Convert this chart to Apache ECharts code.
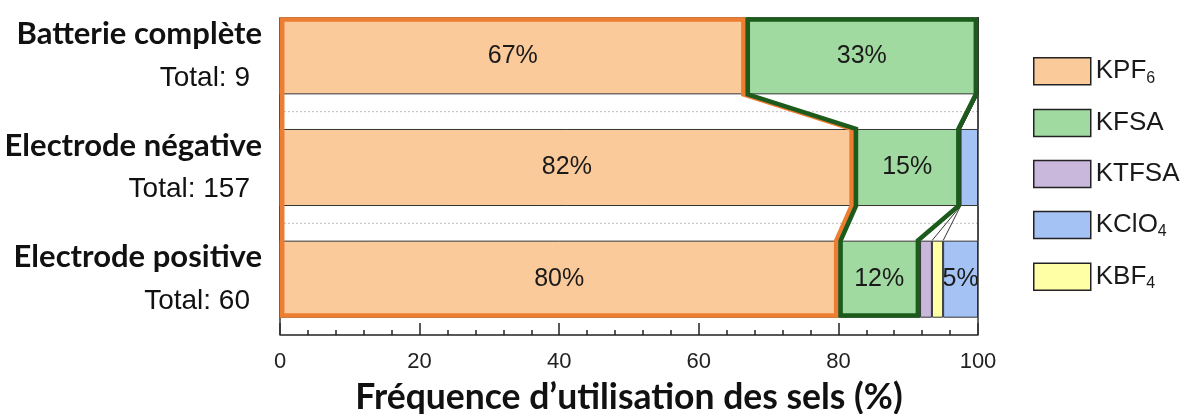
<!DOCTYPE html>
<html>
<head>
<meta charset="utf-8">
<script src="https://cdn.jsdelivr.net/npm/echarts@6/dist/echarts.min.js"></script>
<style>
html,body{margin:0;padding:0;background:#fff;}
#chart{width:1187px;height:414px;}
</style>
</head>
<body>
<div id="chart"></div>
<script>
// ---- data ----
const categories = ['Batterie complète', 'Electrode négative', 'Electrode positive'];
const totals = [9, 157, 60];
// legend order
const salts = ['KPF6', 'KFSA', 'KTFSA', 'KClO4', 'KBF4'];
// stacking order along the bars (left to right)
const stackOrder = ['KPF6', 'KFSA', 'KTFSA', 'KBF4', 'KClO4'];
const kpf6  = [66.7, 82.2, 80.0];
const kfsa  = [33.3, 15.3, 11.7];
const ktfsa = [0, 0, 1.7];
const kclo4 = [0, 2.5, 5.0];
const kbf4  = [0, 0, 1.6];
const xTicks = [0, 20, 40, 60, 80, 100];

const saltValues = {KPF6: kpf6, KFSA: kfsa, KTFSA: ktfsa, KClO4: kclo4, KBF4: kbf4};
const saltColors = {KPF6: '#FBCA9B', KFSA: '#A1DAA1', KTFSA: '#C9B7DC', KClO4: '#A4C2F4', KBF4: '#FFFFA6'};
const outlineColors = ['#ED7D31', '#1D5B1D'];

function cumRow(i) {
  let s = 0;
  const out = [0];
  stackOrder.forEach(name => { s += saltValues[name][i]; out.push(s); });
  return out;
}

const BAR_FRAC = 0.69;
const ARIAL = 'Liberation Sans, Arial, sans-serif';

const chart = echarts.init(document.getElementById('chart'), null, {renderer: 'canvas'});

const barSeries = stackOrder.map(name => ({
  name: name,
  type: 'bar',
  stack: 'total',
  barWidth: (BAR_FRAC * 100) + '%',
  data: saltValues[name],
  itemStyle: {color: saltColors[name], borderColor: '#333', borderWidth: 1},
  label: {
    show: true,
    position: 'inside',
    fontFamily: ARIAL,
    fontSize: 25,
    color: '#1a1a1a',
    formatter: p => (p.value >= 4 ? Math.round(p.value) + '%' : '')
  },
  z: 2
}));

const overlay = {
  type: 'custom',
  silent: true,
  z: 10,
  data: [[0, 0]],
  encode: {x: 0, y: 1},
  renderItem: function (params, api) {
    const n = categories.length;
    const band = api.size([0, 1])[1];
    const half = band * BAR_FRAC / 2;
    const yc = i => api.coord([0, i])[1];
    const X = v => api.coord([v, 0])[0];
    const top = i => yc(i) - half;
    const bot = i => yc(i) + half;
    const children = [];
    const cums = categories.map((c, i) => cumRow(i));
    for (let i = 0; i < n - 1; i++) {
      const y = (yc(i) + yc(i + 1)) / 2;
      children.push({type: 'line', shape: {x1: X(0), y1: y, x2: X(100), y2: y},
        style: {stroke: '#bdbdbd', lineWidth: 1, lineDash: [2, 2]}});
    }
    for (let i = 0; i < n - 1; i++) {
      const a = cums[i], b = cums[i + 1];
      for (let k = 0; k < a.length; k++) {
        children.push({type: 'line', shape: {x1: X(a[k]), y1: bot(i), x2: X(b[k]), y2: top(i + 1)},
          style: {stroke: '#333', lineWidth: 1}});
      }
    }
    const yBottom = yc(n - 1) + band / 2;
    [0, 100].forEach(v => {
      children.push({type: 'line', shape: {x1: X(v), y1: top(0), x2: X(v), y2: yBottom},
        style: {stroke: '#333', lineWidth: 1.5}});
    });
    const o = 2.2;
    for (let s = 0; s < 2; s++) {
      const L = i => X(cums[i][s]) + o;
      const R = i => X(cums[i][s + 1]) - o;
      const T = i => (i === 0 ? top(i) + o : top(i));
      const B = i => (i === n - 1 ? bot(i) - o : bot(i));
      const pts = [];
      for (let i = 0; i < n; i++) { pts.push([R(i), T(i)]); pts.push([R(i), B(i)]); }
      for (let i = n - 1; i >= 0; i--) { pts.push([L(i), B(i)]); pts.push([L(i), T(i)]); }
      children.push({type: 'polygon', shape: {points: pts},
        style: {fill: 'none', stroke: outlineColors[s], lineWidth: 4.5, lineJoin: 'miter'}});
    }
    return {type: 'group', children: children};
  }
};

const option = {
  animation: false,
  backgroundColor: '#fff',
  grid: {left: 280, right: 209, top: 0, bottom: 79, outerBoundsMode: 'none', containLabel: false},
  legend: {
    orient: 'vertical',
    left: 1033,
    top: 57,
    padding: 0,
    icon: 'rect',
    itemWidth: 57,
    itemHeight: 27,
    itemGap: 22.5,
    data: salts,
    itemStyle: {borderColor: '#222', borderWidth: 1.5},
    formatter: name => {
      const m = name.match(/^(.*?)(\d+)$/);
      return m ? '{m|' + m[1] + '}{sub|' + m[2] + '}' : '{m|' + name + '}';
    },
    textStyle: {
      fontFamily: ARIAL,
      fontSize: 26,
      color: '#1a1a1a',
      rich: {
        m: {fontFamily: ARIAL, fontSize: 26, lineHeight: 30, color: '#1a1a1a'},
        sub: {fontFamily: ARIAL, fontSize: 16, lineHeight: 16, verticalAlign: 'bottom', color: '#1a1a1a'}
      }
    }
  },
  xAxis: {
    type: 'value',
    min: xTicks[0],
    max: xTicks[xTicks.length - 1],
    interval: xTicks[1] - xTicks[0],
    name: 'Fréquence d’utilisation des sels (%)',
    nameLocation: 'middle',
    nameGap: 45,
    nameTextStyle: {fontFamily: 'Lato, sans-serif', fontWeight: 'bold', fontSize: 35.5, color: '#111'},
    axisLine: {show: true, lineStyle: {color: '#222', width: 1.5}},
    axisTick: {show: true, inside: true, length: 12, lineStyle: {color: '#222', width: 1.5}},
    minorTick: {show: true, splitNumber: 5, length: 5, lineStyle: {color: '#222', width: 1.5}},
    splitLine: {show: false},
    axisLabel: {fontFamily: ARIAL, fontSize: 22, color: '#222', margin: 16}
  },
  yAxis: {
    type: 'category',
    inverse: true,
    data: categories,
    axisLine: {show: false},
    axisTick: {show: false},
    splitLine: {show: false},
    axisLabel: {
      margin: 18,
      formatter: (value, index) => '{b|' + value + '}\n{t|Total: ' + totals[index] + '}',
      rich: {
        b: {fontFamily: 'Lato, sans-serif', fontWeight: 'bold', fontSize: 31, color: '#111', lineHeight: 44, align: 'right'},
        t: {fontFamily: ARIAL, fontSize: 28, color: '#111', lineHeight: 44, align: 'right', padding: [0, 12, 0, 0]}
      }
    }
  },
  series: barSeries.concat([overlay])
};

chart.setOption(option);
</script>
</body>
</html>
